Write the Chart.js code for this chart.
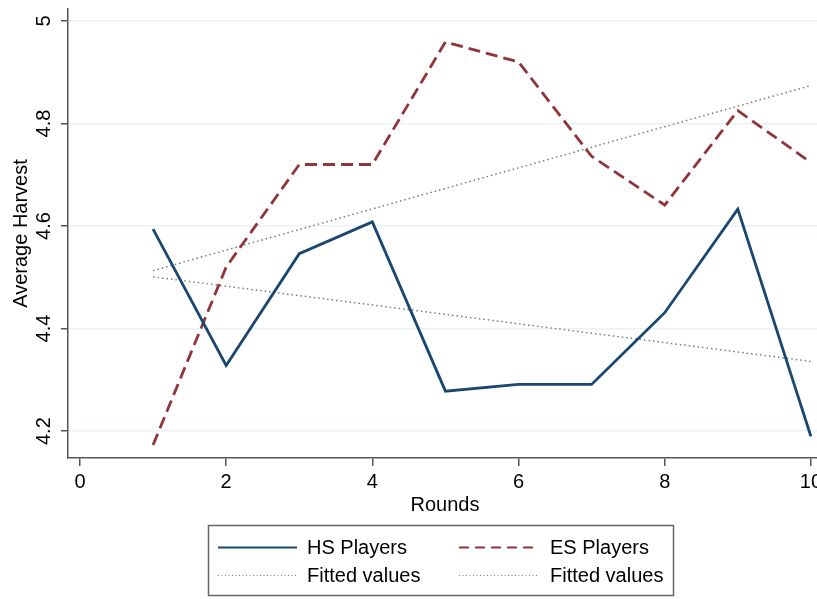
<!DOCTYPE html>
<html>
<head>
<meta charset="utf-8">
<title>Average Harvest by Round</title>
<script src="https://cdn.jsdelivr.net/npm/chart.js@4.4.1/dist/chart.umd.min.js"></script>
<style>
  html, body { margin: 0; padding: 0; background: #fff; overflow: hidden; }
  #wrap { position: relative; width: 817px; height: 599px; overflow: hidden; }
  canvas { display: block; }
</style>
</head>
<body>
<div id="wrap"><canvas id="harvestChart" width="826" height="599"></canvas></div>
<script>
// Average harvest per round for the two player groups
const rounds = [1, 2, 3, 4, 5, 6, 7, 8, 9, 10];
const hsPlayers = [4.594, 4.328, 4.546, 4.608, 4.278, 4.291, 4.291, 4.431, 4.633, 4.190];
const esPlayers = [4.173, 4.520, 4.720, 4.720, 4.959, 4.920, 4.736, 4.641, 4.825, 4.724];

// Linear fits, drawn between the first and last round
const fitRounds = [1, 10];
const hsFitted = [4.501, 4.336];
const esFitted = [4.513, 4.874];

const xTicks = [0, 2, 4, 6, 8, 10];
const yTicks = [4.2, 4.4, 4.6, 4.8, 5];
const yTickLabels = ['4.2', '4.4', '4.6', '4.8', '5'];

const FONT = '"Liberation Sans", Helvetica, Arial, sans-serif';
const FONT_SIZE = 20;
const AXIS_COLOR = '#555555';
const GRID_COLOR = '#eaf2f3';
const HS_COLOR = '#1a476f';
const ES_COLOR = '#90353b';
const FIT_COLOR = '#7a7a7a';

const toPoints = (xs, ys) => xs.map((x, i) => ({ x: x, y: ys[i] }));

// Stata-style extras: rotated y labels, axis titles and the boxed legend
const decorations = {
  id: 'decorations',
  afterDraw(chart) {
    const ctx = chart.ctx;
    const area = chart.chartArea;
    const yScale = chart.scales.y;

    ctx.save();
    ctx.fillStyle = '#000';
    ctx.font = FONT_SIZE + 'px ' + FONT;
    ctx.textAlign = 'center';
    ctx.textBaseline = 'middle';

    yTicks.forEach((v, i) => {
      ctx.save();
      ctx.translate(44, yScale.getPixelForValue(v));
      ctx.rotate(-Math.PI / 2);
      ctx.fillText(yTickLabels[i], 0, 0);
      ctx.restore();
    });

    ctx.save();
    ctx.translate(21, (area.top + area.bottom) / 2);
    ctx.rotate(-Math.PI / 2);
    ctx.fillText('Average Harvest', 0, 0);
    ctx.restore();

    ctx.fillText('Rounds', 445, 505);

    // legend box
    ctx.strokeStyle = '#666';
    ctx.lineWidth = 1.5;
    ctx.strokeRect(208.5, 525.5, 465, 70);

    const rows = [547, 575];
    const items = [
      { x0: 218, x1: 297, tx: 307, y: rows[0], color: HS_COLOR, width: 2, dash: [], label: 'HS Players' },
      { x0: 459, x1: 537, tx: 550, y: rows[0], color: ES_COLOR, width: 2, dash: [10, 6], label: 'ES Players' },
      { x0: 218, x1: 297, tx: 307, y: rows[1], color: FIT_COLOR, width: 1.2, dash: [1, 2.5], label: 'Fitted values' },
      { x0: 459, x1: 537, tx: 550, y: rows[1], color: FIT_COLOR, width: 1.2, dash: [1, 2.5], label: 'Fitted values' }
    ];
    ctx.textAlign = 'left';
    items.forEach(it => {
      ctx.beginPath();
      ctx.setLineDash(it.dash);
      ctx.strokeStyle = it.color;
      ctx.lineWidth = it.width;
      ctx.moveTo(it.x0, it.y + 0.5);
      ctx.lineTo(it.x1, it.y + 0.5);
      ctx.stroke();
      ctx.setLineDash([]);
      ctx.fillText(it.label, it.tx, it.y + 1);
    });
    ctx.restore();
  }
};

const ctx = document.getElementById('harvestChart').getContext('2d');
new Chart(ctx, {
  type: 'line',
  data: {
    datasets: [
      {
        label: 'HS Players',
        data: toPoints(rounds, hsPlayers),
        borderColor: HS_COLOR,
        borderWidth: 2.8,
        pointRadius: 0,
        tension: 0
      },
      {
        label: 'ES Players',
        data: toPoints(rounds, esPlayers),
        borderColor: ES_COLOR,
        borderWidth: 2.8,
        borderDash: [12, 6],
        pointRadius: 0,
        tension: 0
      },
      {
        label: 'Fitted values',
        data: toPoints(fitRounds, hsFitted),
        borderColor: FIT_COLOR,
        borderWidth: 1.5,
        borderDash: [1.5, 3],
        pointRadius: 0
      },
      {
        label: 'Fitted values',
        data: toPoints(fitRounds, esFitted),
        borderColor: FIT_COLOR,
        borderWidth: 1.5,
        borderDash: [1.5, 3],
        pointRadius: 0
      }
    ]
  },
  options: {
    responsive: false,
    animation: false,
    devicePixelRatio: 1,
    layout: { padding: { top: 9, left: 0, right: 0, bottom: 0 } },
    plugins: {
      legend: { display: false },
      tooltip: { enabled: false }
    },
    scales: {
      x: {
        type: 'linear',
        min: -0.164,
        max: 10.164,
        afterFit: s => { s.height = 141; },
        afterBuildTicks: s => { s.ticks = xTicks.map(v => ({ value: v })); },
        border: { color: AXIS_COLOR, width: 1.5 },
        grid: { drawOnChartArea: false, drawTicks: true, tickLength: 8, tickColor: AXIS_COLOR, lineWidth: 1.5 },
        ticks: { color: '#000', font: { size: FONT_SIZE, family: FONT }, padding: 4, maxRotation: 0, autoSkip: false }
      },
      y: {
        type: 'linear',
        min: 4.1476,
        max: 5.0233,
        afterFit: s => { s.width = 68; },
        afterBuildTicks: s => { s.ticks = yTicks.map(v => ({ value: v })); },
        border: { color: AXIS_COLOR, width: 1.5 },
        grid: { color: GRID_COLOR, lineWidth: 1.5, drawTicks: true, tickLength: 7, tickColor: AXIS_COLOR },
        ticks: { display: false }
      }
    }
  },
  plugins: [decorations]
});
</script>
</body>
</html>
